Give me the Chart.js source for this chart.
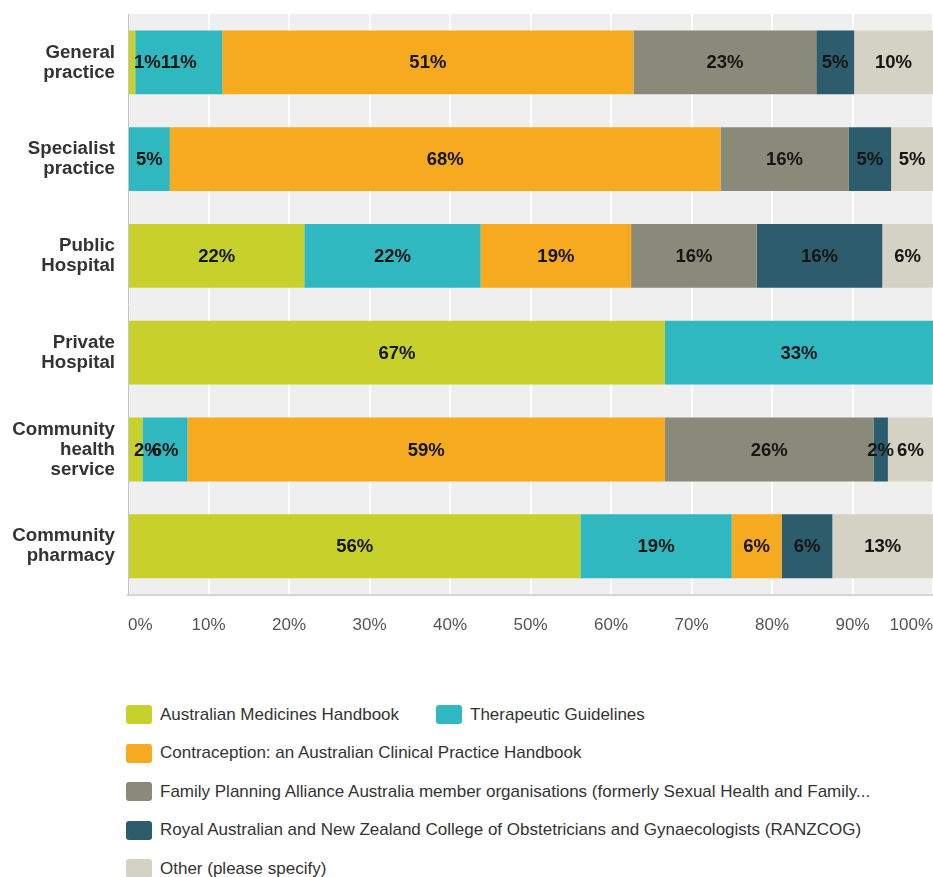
<!DOCTYPE html>
<html>
<head>
<meta charset="utf-8">
<script src="https://cdn.jsdelivr.net/npm/chart.js@4.4.1/dist/chart.umd.min.js"></script>
<style>
  html, body { margin: 0; background: #fff; overflow: hidden; font-family: "Liberation Sans", Arial, sans-serif; }
  #wrap { position: relative; width: 933px; height: 877px; overflow: hidden; }
  #box { position: absolute; left: 0; top: 0; width: 933px; height: 674px; }
  .item { position: absolute; display: flex; align-items: center; height: 20px; font-size: 17px; color: #333; white-space: nowrap; }
  .sw { width: 26px; height: 19px; border-radius: 3px; margin-right: 8px; }
</style>
</head>
<body>
<div id="wrap">
  <div id="box"><canvas id="myChart"></canvas></div>
  <div id="legend"></div>
</div>
<script>
// categories (y axis), multi-line labels
var categories = [
    ['General', 'practice'],
    ['Specialist', 'practice'],
    ['Public', 'Hospital'],
    ['Private', 'Hospital'],
    ['Community', 'health', 'service'],
    ['Community', 'pharmacy']
];

var seriesNames = [
    'Australian Medicines Handbook',
    'Therapeutic Guidelines',
    'Contraception: an Australian Clinical Practice Handbook',
    'Family Planning Alliance Australia member organisations (formerly Sexual Health and Family...',
    'Royal Australian and New Zealand College of Obstetricians and Gynaecologists (RANZCOG)',
    'Other (please specify)'
];

// percent of respondents per category
var amh           = [0.9, 0,    21.9, 66.7, 1.8,  56.2];
var therapeutic   = [10.8, 5.2, 21.9, 33.3, 5.6,  18.8];
var contraception = [51.1, 68.4, 18.7, 0,   59.3, 6.2];
var fpaa          = [22.7, 15.9, 15.6, 0,   25.9, 0];
var ranzcog       = [4.7, 5.3,  15.6, 0,    1.8,  6.3];
var other         = [9.8, 5.2,  6.3,  0,    5.6,  12.5];

var xTicks = [0, 10, 20, 30, 40, 50, 60, 70, 80, 90, 100];

var colors = ['#c8d12b', '#2fb8bf', '#f6aa1f', '#8a8a7b', '#2d5d6d', '#d4d2c4'];
var seriesData = [amh, therapeutic, contraception, fpaa, ranzcog, other];

var datasets = [];
for (var i = 0; i < seriesNames.length; i++) {
    datasets.push({
        label: seriesNames[i],
        data: seriesData[i],
        backgroundColor: colors[i],
        borderWidth: 0,
        barPercentage: 0.66,
        categoryPercentage: 1
    });
}

// grey plot background
const plotBg = {
    id: 'plotBg',
    beforeDraw(chart) {
        const a = chart.chartArea;
        const ctx = chart.ctx;
        ctx.save();
        ctx.fillStyle = '#efefef';
        ctx.fillRect(a.left, a.top, a.right - a.left, a.bottom - a.top);
        ctx.restore();
    }
};

// percentage labels in the middle of each segment
const segLabels = {
    id: 'segLabels',
    afterDatasetsDraw(chart) {
        const ctx = chart.ctx;
        const left = chart.chartArea.left;
        ctx.save();
        ctx.font = 'bold 18.5px "Liberation Sans", Arial, sans-serif';
        ctx.fillStyle = '#151515';
        ctx.textAlign = 'center';
        ctx.textBaseline = 'middle';
        chart.data.datasets.forEach(function (ds, di) {
            const meta = chart.getDatasetMeta(di);
            meta.data.forEach(function (bar, j) {
                const v = ds.data[j];
                if (!v) return;
                const p = bar.getProps(['x', 'y', 'base'], true);
                const txt = Math.round(v) + '%';
                const w = ctx.measureText(txt).width;
                let cx = (p.x + p.base) / 2;
                if (cx - w / 2 < left + 6) cx = left + 6 + w / 2;
                ctx.fillText(txt, cx, p.y + 1);
            });
        });
        ctx.restore();
    }
};

const config = {
    type: 'bar',
    data: { labels: categories, datasets: datasets },
    options: {
        indexAxis: 'y',
        responsive: true,
        maintainAspectRatio: false,
        animation: false,
        layout: { padding: { top: 14, right: 0, left: 0, bottom: 17 } },
        plugins: {
            legend: { display: false },
            tooltip: { enabled: false }
        },
        scales: {
            x: {
                stacked: true,
                min: 0,
                max: 100,
                afterBuildTicks: function (s) { s.ticks = xTicks.map(function (v) { return { value: v }; }); },
                afterFit: function (s) { s.paddingLeft = 0; s.paddingRight = 0; },
                ticks: {
                    align: 'inner',
                    padding: 21,
                    color: '#555',
                    font: { family: '"Liberation Sans", Arial, sans-serif', size: 17 },
                    callback: function (v) { return v + '%'; }
                },
                grid: { color: '#ffffff', lineWidth: 2, drawTicks: false },
                border: { display: true, color: '#d6d6d6', width: 2 }
            },
            y: {
                stacked: true,
                afterFit: function (s) { s.width = 128; s.paddingTop = 0; s.paddingBottom = 0; },
                ticks: {
                    padding: 5,
                    color: '#333',
                    font: { family: '"Liberation Sans", Arial, sans-serif', size: 18.7, weight: 'bold', lineHeight: 1.07 }
                },
                grid: { display: false },
                border: { display: true, color: '#c4c4c4', width: 1 }
            }
        }
    },
    plugins: [plotBg, segLabels]
};

const myChart = new Chart(document.getElementById('myChart'), config);

// legend built from the chart's own legend items
var items = Chart.defaults.plugins.legend.labels.generateLabels(myChart);
var spots = [[126, 714.5], [436, 714.5], [126, 753], [126, 791.5], [126, 830], [126, 868.5]];
var legend = document.getElementById('legend');
items.forEach(function (it, k) {
    var d = document.createElement('div');
    d.className = 'item';
    d.style.left = spots[k][0] + 'px';
    d.style.top = (spots[k][1] - 10) + 'px';
    var sw = document.createElement('span');
    sw.className = 'sw';
    sw.style.background = it.fillStyle;
    var tx = document.createElement('span');
    tx.textContent = it.text;
    d.appendChild(sw);
    d.appendChild(tx);
    legend.appendChild(d);
});
</script>
</body>
</html>
